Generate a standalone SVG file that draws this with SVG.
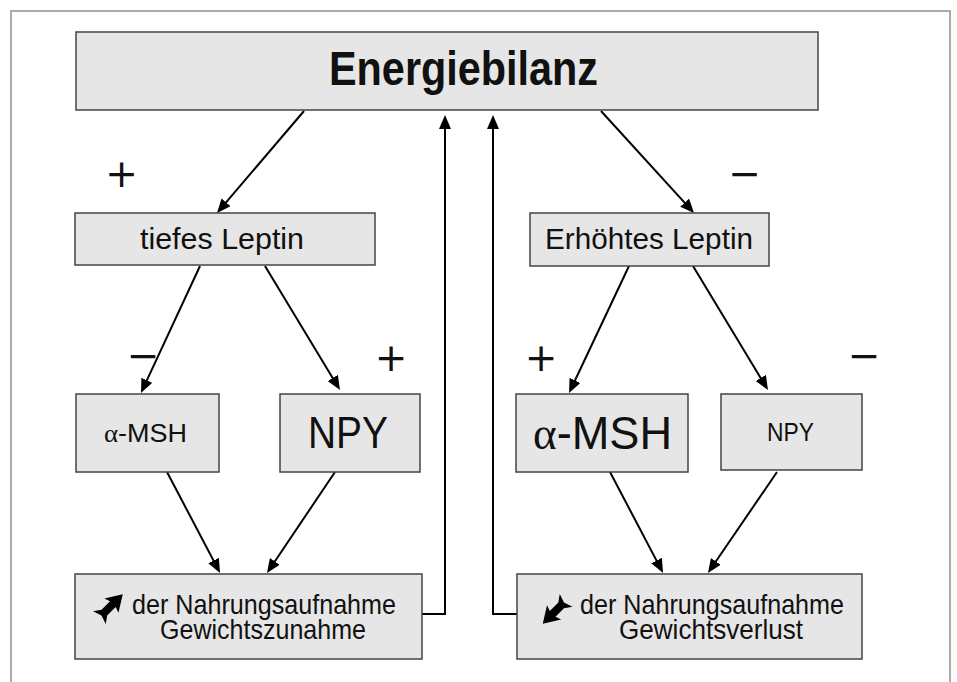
<svg xmlns="http://www.w3.org/2000/svg" width="957" height="682" viewBox="0 0 957 682">
<style>
.box{fill:#e6e6e6;stroke:#444;stroke-width:1.5}
.t{font-family:"Liberation Sans",Arial,sans-serif;fill:#111}
.sign{font-family:"DejaVu Sans",sans-serif;font-size:39px;fill:#111;text-anchor:middle}
.con{fill:none;stroke:#000;stroke-width:2;marker-end:url(#ah)}
.glyph{fill:#000}
</style>
<defs>
<marker id="ah" viewBox="0 0 14 12" refX="4" refY="6" markerWidth="14" markerHeight="12" markerUnits="userSpaceOnUse" orient="auto">
<path d="M0,0 L14,6 L0,12 z" fill="#000"/>
</marker>
<path id="featherArrow" d="M18,0 L2,-10 L4,-4 L-8,-4 L-15,-9 L-12,0 L-15,9 L-8,4 L4,4 L2,10 z"/>
</defs>
<rect x="11" y="11" width="939" height="700" fill="#fff" stroke="#aaa" stroke-width="2"/>

<g id="connectors">
<line class="con" x1="304" y1="111" x2="223.5" y2="205.4"/>
<line class="con" x1="601" y1="111" x2="687.3" y2="205.6"/>
<line class="con" x1="200" y1="266" x2="145.2" y2="383.9"/>
<line class="con" x1="265" y1="266" x2="334.8" y2="381.4"/>
<line class="con" x1="629" y1="266" x2="573.3" y2="384.0"/>
<line class="con" x1="693" y1="266" x2="762.8" y2="381.4"/>
<line class="con" x1="167" y1="472" x2="215.4" y2="564.1"/>
<line class="con" x1="335" y1="472" x2="272.6" y2="564.7"/>
<line class="con" x1="610" y1="472" x2="658.4" y2="564.1"/>
<line class="con" x1="777" y1="472" x2="713.6" y2="564.7"/>
<polyline class="con" points="422,614 445,614 445,125"/>
<polyline class="con" points="517,614 493,614 493,125"/>
</g>

<g id="signs">
<text class="sign" x="121.5" y="186.5">+</text>
<text class="sign" x="744.5" y="186.5">−</text>
<text class="sign" x="143" y="368.5">−</text>
<text class="sign" x="391" y="370.5">+</text>
<text class="sign" x="541" y="370.5">+</text>
<text class="sign" x="864" y="368.5">−</text>
</g>

<g id="energiebilanz">
<rect class="box" x="76" y="32" width="742" height="78"/>
<text class="t" x="329" y="85" font-size="48" font-weight="bold" textLength="269" lengthAdjust="spacingAndGlyphs">Energiebilanz</text>
</g>

<g id="tiefes-leptin">
<rect class="box" x="75" y="213" width="300" height="52"/>
<text class="t" x="140" y="249" font-size="30" textLength="164" lengthAdjust="spacingAndGlyphs">tiefes Leptin</text>
</g>

<g id="erhoehtes-leptin">
<rect class="box" x="530" y="213" width="239" height="53"/>
<text class="t" x="545" y="249" font-size="30" textLength="208" lengthAdjust="spacingAndGlyphs">Erhöhtes Leptin</text>
</g>

<g id="amsh-left">
<rect class="box" x="76" y="394" width="143" height="78"/>
<text class="t" x="104" y="442" font-size="25" textLength="83" lengthAdjust="spacingAndGlyphs"><tspan font-family="Liberation Serif, serif">α</tspan>-MSH</text>
</g>

<g id="npy-left">
<rect class="box" x="280" y="394" width="140" height="78"/>
<text class="t" x="308" y="448" font-size="45" textLength="80" lengthAdjust="spacingAndGlyphs">NPY</text>
</g>

<g id="amsh-right">
<rect class="box" x="516" y="394" width="172" height="78"/>
<text class="t" x="533" y="449" font-size="47" textLength="139" lengthAdjust="spacingAndGlyphs"><tspan font-family="Liberation Serif, serif">α</tspan>-MSH</text>
</g>

<g id="npy-right">
<rect class="box" x="721" y="394" width="141" height="76"/>
<text class="t" x="767" y="441" font-size="25" textLength="47" lengthAdjust="spacingAndGlyphs">NPY</text>
</g>

<g id="zunahme">
<rect class="box" x="75" y="574" width="347" height="85"/>
<use href="#featherArrow" class="glyph" transform="translate(110,607) rotate(-45)"/>
<text class="t" font-size="28"><tspan x="132" y="614" textLength="264" lengthAdjust="spacingAndGlyphs">der Nahrungsaufnahme</tspan><tspan x="160" y="639" textLength="206" lengthAdjust="spacingAndGlyphs">Gewichtszunahme</tspan></text>
</g>

<g id="verlust">
<rect class="box" x="517" y="574" width="345" height="85"/>
<use href="#featherArrow" class="glyph" transform="translate(555.5,611) rotate(135)"/>
<text class="t" font-size="28"><tspan x="580" y="614" textLength="264" lengthAdjust="spacingAndGlyphs">der Nahrungsaufnahme</tspan><tspan x="619" y="639" textLength="184" lengthAdjust="spacingAndGlyphs">Gewichtsverlust</tspan></text>
</g>
</svg>
